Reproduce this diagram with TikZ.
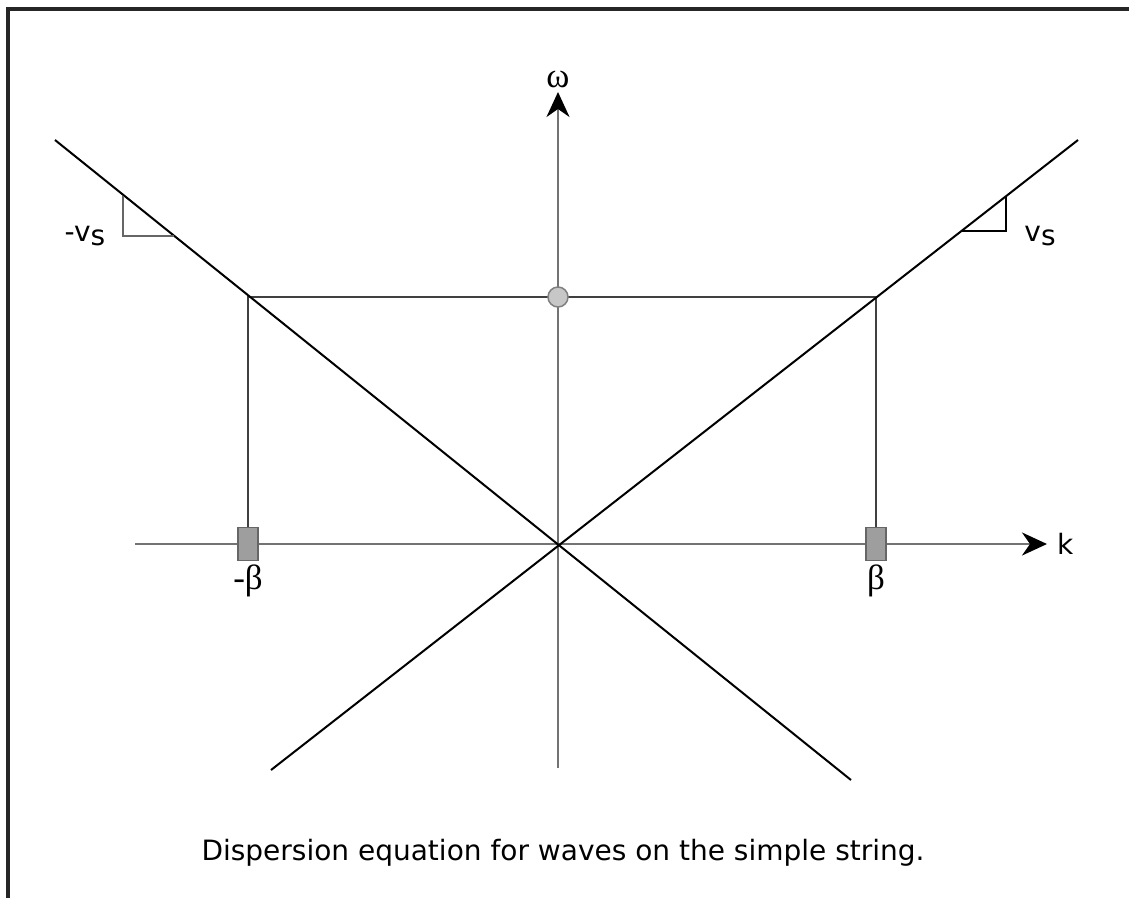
\documentclass[tikz,border=0pt]{standalone}
\usepackage{fontspec}
\setmainfont{DejaVu Sans}
\newfontfamily\greekfont{Liberation Serif}
\usetikzlibrary{arrows.meta,positioning}

\begin{document}
\begin{tikzpicture}[
    x=1pt, y=-1pt,
    axis/.style={draw=black!55, line width=2.4pt},
    branch/.style={draw=black, line width=2pt},
    guide/.style={draw=black!75, line width=2pt},
    slopemark/.style={line width=2pt},
    marker/.style={draw=black!60, fill=black!38, line width=1.5pt, minimum width=20pt, minimum height=33pt, inner sep=0pt},
    freqdot/.style={circle, draw=black!50, fill=black!22, line width=1.5pt, minimum size=20pt, inner sep=0pt},
    txt/.style={font=\fontsize{28}{32}\selectfont, inner sep=1pt},
    greek/.style={font=\fontsize{35}{38}\greekfont, inner sep=1pt}
]
\useasboundingbox (0,0) rectangle (1129,898);

% frame
\draw[line width=4pt, black!85] (8,898) -- (8,9) -- (1129,9);

% axes
\coordinate (origin) at (558,544);
\coordinate (k_start) at (135,544);
\coordinate (k_end) at (1047,544);
\coordinate (w_start) at (558,768);
\coordinate (w_end) at (558,92);
\draw[axis, -{Stealth[black, length=25pt, width=23pt, inset=8pt]}] (k_start) -- (k_end);
\draw[axis, -{Stealth[black, length=25pt, width=23pt, inset=8pt]}] (w_start) -- (w_end);
\node[txt, right=9pt of k_end] (k_lbl) {k};
\node[greek, above=3pt of w_end] (w_lbl) {ω};

% construction lines
\coordinate (neg_top) at (248,297);
\coordinate (pos_top) at (876,297);
\coordinate (neg_foot) at (248,544);
\coordinate (pos_foot) at (876,544);
\draw[guide] (neg_foot) -- (neg_top) -- (pos_top) -- (pos_foot);

% the two branches
\coordinate (left_hi) at (55,140);
\coordinate (left_lo) at (851,780);
\coordinate (right_lo) at (271,770);
\coordinate (right_hi) at (1078,140);
\draw[branch] (left_hi) -- (left_lo);
\draw[branch] (right_lo) -- (right_hi);

% slopes
\coordinate (neg_slope_a) at (123,196);
\coordinate (neg_slope_c) at (123,236);
\coordinate (neg_slope_b) at (174,236);
\draw[slopemark, black!60] (neg_slope_a) -- (neg_slope_c) -- (neg_slope_b);
\node[txt] (neg_vs) at (85,236) {-v\raisebox{-0.3ex}{s}};

\coordinate (pos_slope_a) at (961,231);
\coordinate (pos_slope_c) at (1006,231);
\coordinate (pos_slope_b) at (1006,196);
\draw[slopemark, black] (pos_slope_a) -- (pos_slope_c) -- (pos_slope_b);
\node[txt] (pos_vs) at (1040,236) {v\raisebox{-0.3ex}{s}};

% markers
\node[marker] (neg_beta) at (neg_foot) {};
\node[marker] (pos_beta) at (pos_foot) {};
\node[freqdot] (omega_dot) at (558,297) {};
\node[greek, below=2pt of neg_beta] (neg_beta_lbl) {-β};
\node[greek, below=2pt of pos_beta] (pos_beta_lbl) {β};

% caption
\node[txt] (caption) at (563,853) {Dispersion equation for waves on the simple string.};

\end{tikzpicture}
\end{document}
